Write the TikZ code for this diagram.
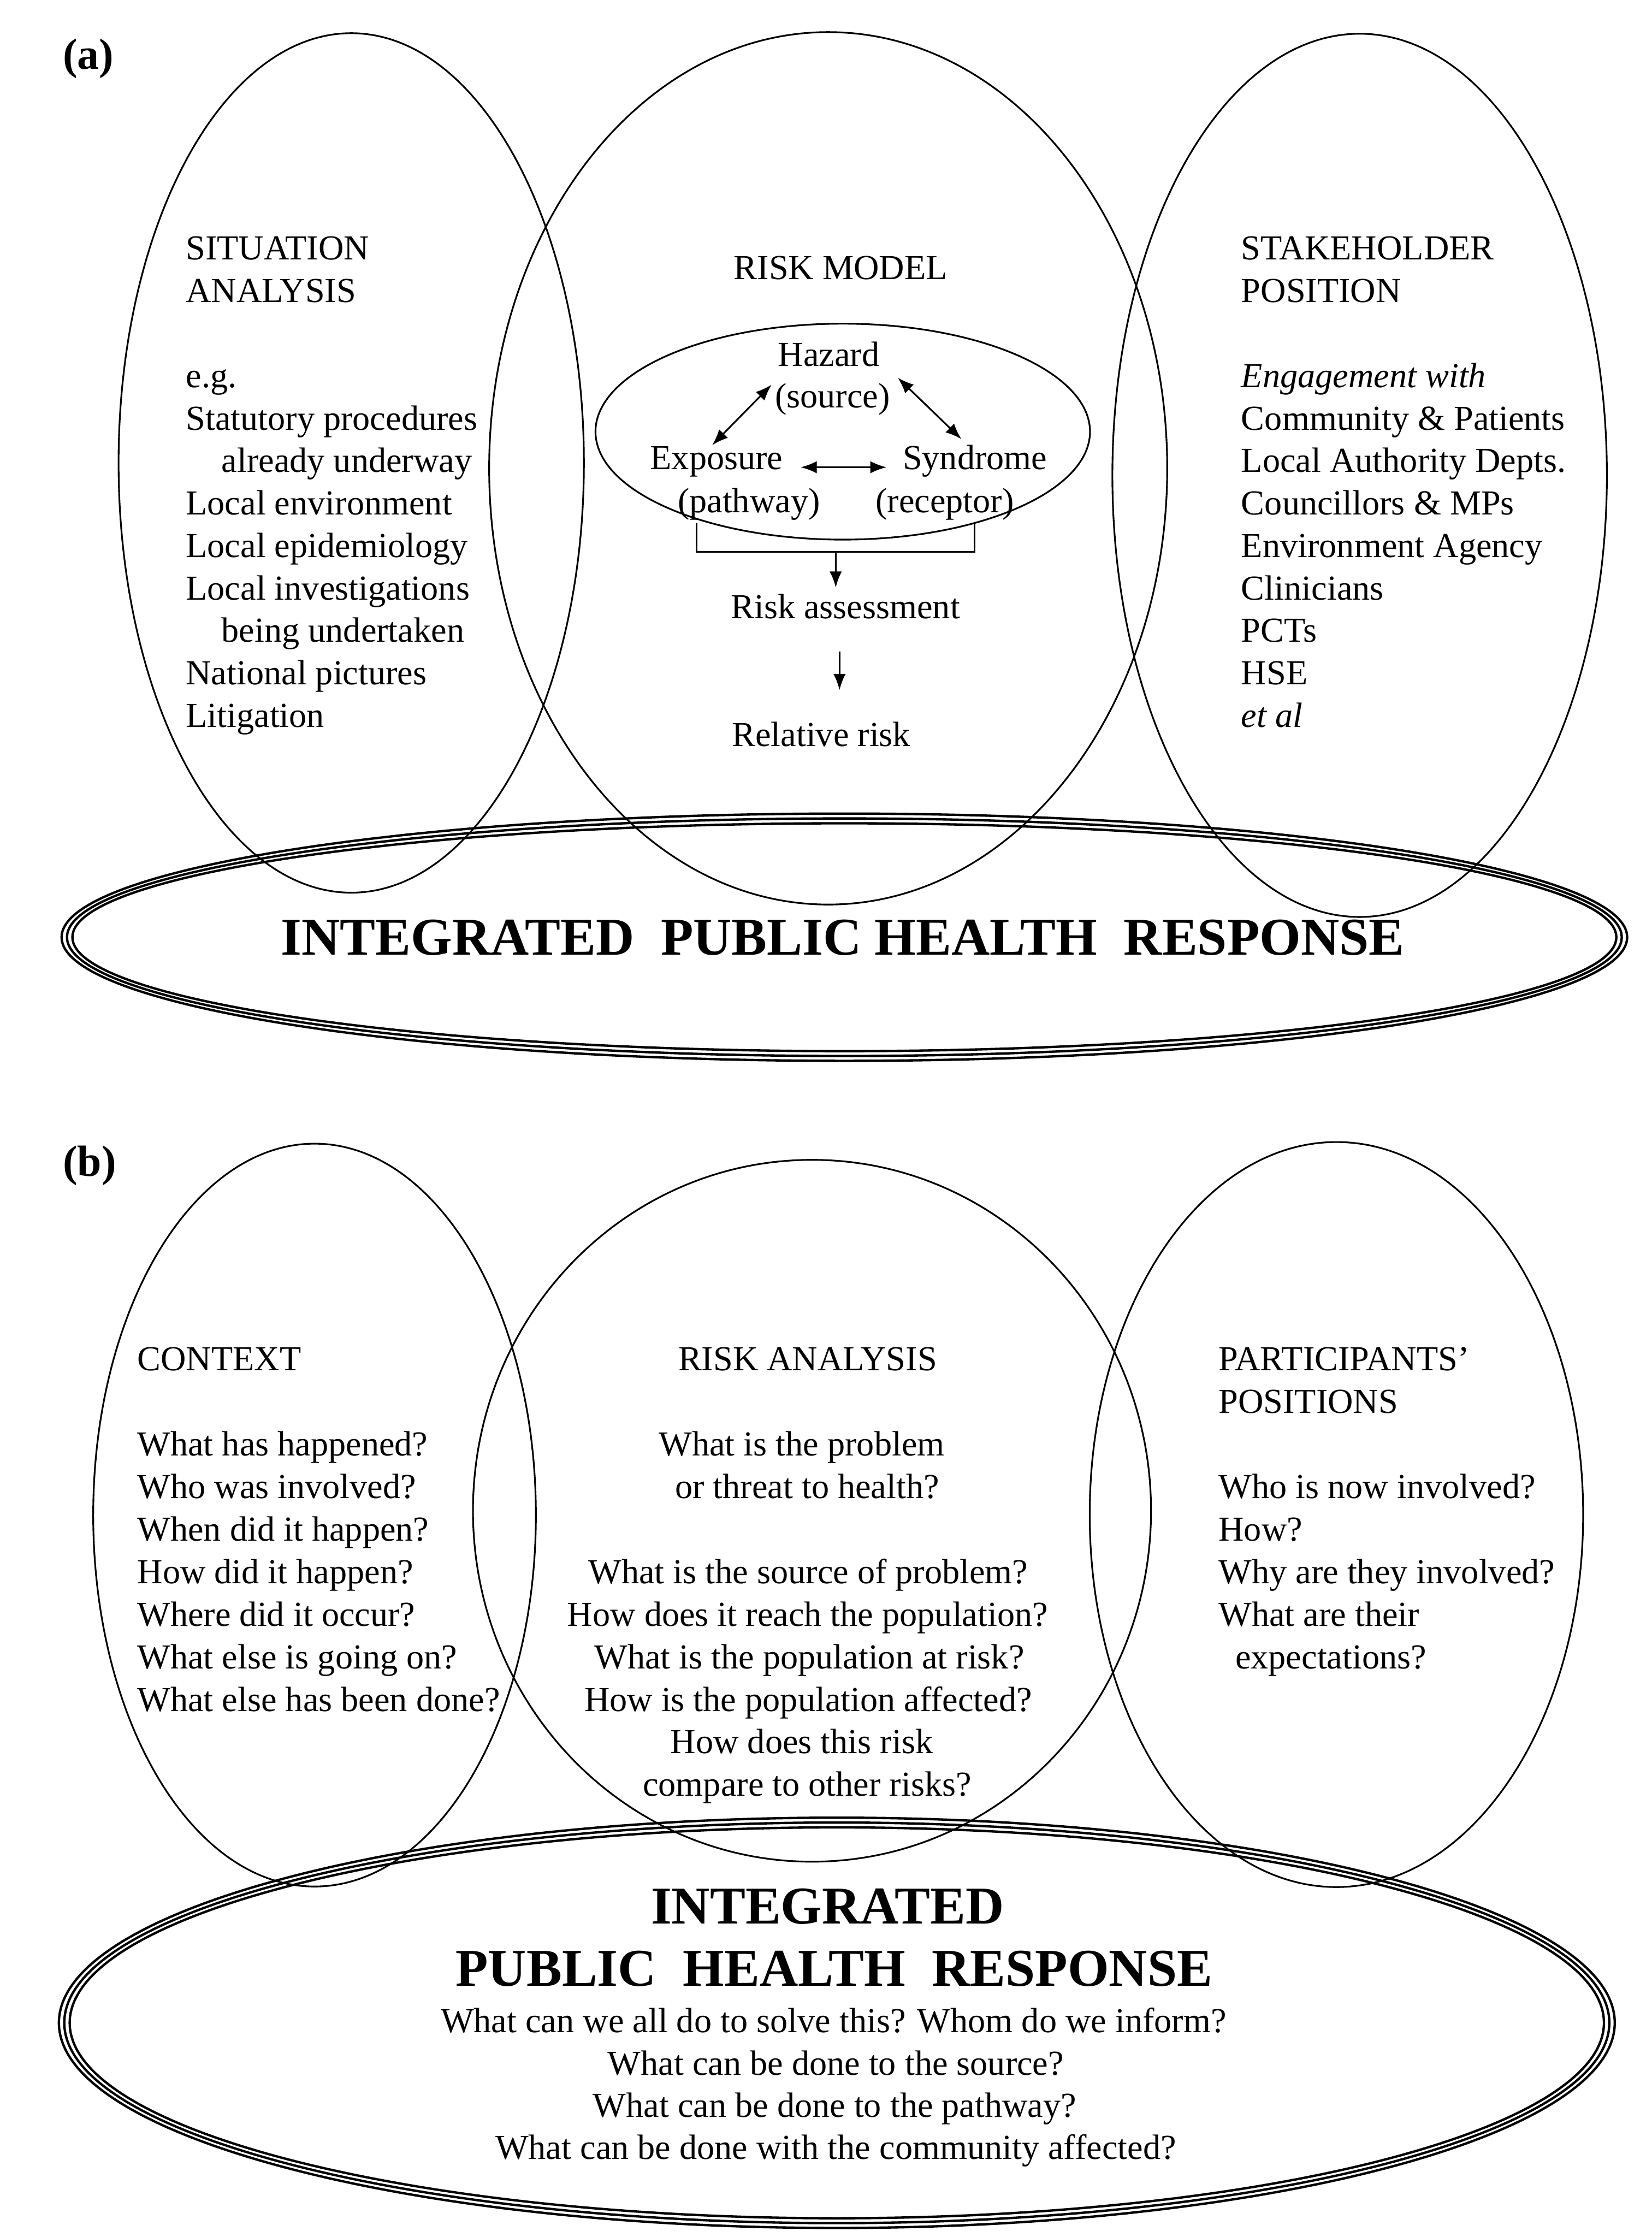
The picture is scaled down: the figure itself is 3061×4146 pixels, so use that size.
\documentclass[tikz,border=0pt]{standalone}
\usepackage{fontspec}
\setmainfont{Liberation Serif}
\usetikzlibrary{arrows.meta}
\begin{document}
\begin{tikzpicture}[x=0.01cm,y=-0.01cm,
 txt/.style={font=\fontsize{18.5}{22.4}\selectfont, inner sep=0pt},
 lft/.style={txt, anchor=base west},
 ctr/.style={txt, anchor=base},
 lbl/.style={font=\fontsize{23}{27}\selectfont\bfseries, inner sep=0pt, anchor=base west},
 big/.style={font=\fontsize{28}{33}\selectfont\bfseries, inner sep=0pt, anchor=base},
 ring/.style={line width=0.9pt},
 triple/.style={line width=1.25pt},
 thin/.style={line width=0.8pt},
 arr/.style={line width=0.9pt, -{Latex[length=8.5pt,width=6.5pt]}},
 darr/.style={line width=0.9pt, {Latex[length=8.5pt,width=6.5pt]}-{Latex[length=8.5pt,width=6.5pt]}}
]
\useasboundingbox (0,0) rectangle (3061,4146);

% ---------- panel (a) ----------
\draw[ring] (651,858) ellipse [x radius=4.31cm, y radius=7.96cm];
\draw[ring] (1535,868) ellipse [x radius=6.28cm, y radius=8.08cm];
\draw[ring] (2520,881) ellipse [x radius=4.58cm, y radius=8.18cm];
\draw[ring] (1562,800) ellipse [x radius=4.58cm, y radius=2.00cm];
\foreach \r/\s in {14.30/2.11, 14.40/2.20, 14.50/2.29}
  \draw[triple] (1565,1737) ellipse [x radius=\r cm, y radius=\s cm];

\node[lbl] (la) at (116,128) {(a)};

\node[lft] (sa1) at (344,481) {SITUATION};
\node[lft] (sa2) at (344,560) {ANALYSIS};
\node[lft] (sa3) at (344,718) {e.g.};
\node[lft] (sa4) at (344,797) {Statutory procedures};
\node[lft] (sa5) at (410,875) {already underway};
\node[lft] (sa6) at (344,954) {Local environment};
\node[lft] (sa7) at (344,1033) {Local epidemiology};
\node[lft] (sa8) at (344,1112) {Local investigations};
\node[lft] (sa9) at (410,1190) {being undertaken};
\node[lft] (sa10) at (344,1269) {National pictures};
\node[lft] (sa11) at (344,1348) {Litigation};

\node[lft] (sp1) at (2300,481) {STAKEHOLDER};
\node[lft] (sp2) at (2300,560) {POSITION};
\node[lft] (sp3) at (2300,718) {\itshape Engagement with};
\node[lft] (sp4) at (2300,797) {Community \& Patients};
\node[lft] (sp5) at (2300,875) {Local Authority Depts.};
\node[lft] (sp6) at (2300,954) {Councillors \& MPs};
\node[lft] (sp7) at (2300,1033) {Environment Agency};
\node[lft] (sp8) at (2300,1112) {Clinicians};
\node[lft] (sp9) at (2300,1190) {PCTs};
\node[lft] (sp10) at (2300,1269) {HSE};
\node[lft] (sp11) at (2300,1348) {\itshape et al};

\node[ctr] (rm) at (1558,518) {RISK MODEL};
\node[ctr] (hz) at (1536,679) {Hazard};
\node[ctr] (src) at (1543,756) {(source)};
\node[ctr] (ex) at (1328,870) {Exposure};
\node[ctr] (sy) at (1807,870) {Syndrome};
\node[ctr] (pw) at (1388,950) {(pathway)};
\node[ctr] (rc) at (1751,950) {(receptor)};
\node[ctr] (ras) at (1567,1146) {Risk assessment};
\node[ctr] (rr) at (1522,1383) {Relative risk};

\coordinate (ehA) at (1320,825);  \coordinate (ehB) at (1430,713);
\coordinate (hsA) at (1664,700);  \coordinate (hsB) at (1782,814);
\coordinate (esA) at (1484,866);  \coordinate (esB) at (1643,866);
\draw[darr] (ehA) -- (ehB);
\draw[darr] (hsA) -- (hsB);
\draw[darr] (esA) -- (esB);

\coordinate (brL) at (1291,970);  \coordinate (brLb) at (1291,1023);
\coordinate (brR) at (1806,970);  \coordinate (brRb) at (1806,1023);
\coordinate (brM) at (1549,1023); \coordinate (brT) at (1549,1089);
\draw[thin] (brL) -- (brLb) -- (brRb) -- (brR);
\draw[arr] (brM) -- (brT);
\coordinate (a2s) at (1556,1208); \coordinate (a2e) at (1556,1279);
\draw[arr] (a2s) -- (a2e);

\node[big] (iphr) at (1562,1770) {INTEGRATED\ \ PUBLIC HEALTH\ \ RESPONSE};

% ---------- panel (b) ----------
\draw[ring] (583,2808) ellipse [x radius=4.10cm, y radius=6.88cm];
\draw[ring] (1505,2800) ellipse [x radius=6.28cm, y radius=6.50cm];
\draw[ring] (2477,2807) ellipse [x radius=4.57cm, y radius=6.90cm];
\foreach \r/\s in {14.21/3.62, 14.31/3.71, 14.41/3.80}
  \draw[triple] (1551,3749) ellipse [x radius=\r cm, y radius=\s cm];

\node[lbl] (lb) at (116,2180) {(b)};

\node[lft] (c1) at (254,2540) {CONTEXT};
\node[lft] (c2) at (254,2698) {What has happened?};
\node[lft] (c3) at (254,2777) {Who was involved?};
\node[lft] (c4) at (254,2856) {When did it happen?};
\node[lft] (c5) at (254,2935) {How did it happen?};
\node[lft] (c6) at (254,3014) {Where did it occur?};
\node[lft] (c7) at (254,3093) {What else is going on?};
\node[lft] (c8) at (254,3172) {What else has been done?};

\node[ctr] (r1) at (1497,2540) {RISK ANALYSIS};
\node[ctr] (r2) at (1486,2698) {What is the problem};
\node[ctr] (r3) at (1496,2777) {or threat to health?};
\node[ctr] (r4) at (1498,2935) {What is the source of problem?};
\node[ctr] (r5) at (1497,3014) {How does it reach the population?};
\node[ctr] (r6) at (1500,3093) {What is the population at risk?};
\node[ctr] (r7) at (1498,3172) {How is the population affected?};
\node[ctr] (r8) at (1486,3250) {How does this risk};
\node[ctr] (r9) at (1496,3329) {compare to other risks?};

\node[lft] (p1) at (2258,2540) {PARTICIPANTS’};
\node[lft] (p2) at (2258,2619) {POSITIONS};
\node[lft] (p3) at (2258,2777) {Who is now involved?};
\node[lft] (p4) at (2258,2856) {How?};
\node[lft] (p5) at (2258,2935) {Why are they involved?};
\node[lft] (p6) at (2258,3014) {What are their};
\node[lft] (p7) at (2289,3093) {expectations?};

\node[big] (i1) at (1534,3565) {INTEGRATED};
\node[big] (i2) at (1546,3681) {PUBLIC\ \ HEALTH\ \ RESPONSE};
\node[ctr] (q1) at (1545,3767) {What can we all do to solve this? Whom do we inform?};
\node[ctr] (q2) at (1549,3846) {What can be done to the source?};
\node[ctr] (q3) at (1547,3924) {What can be done to the pathway?};
\node[ctr] (q4) at (1549,4002) {What can be done with the community affected?};
\end{tikzpicture}
\end{document}
